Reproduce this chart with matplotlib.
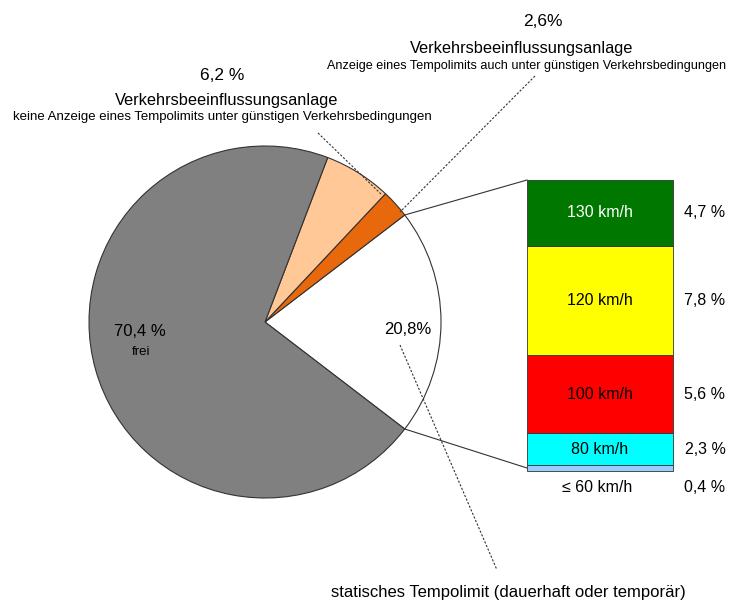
import numpy as np
import matplotlib
matplotlib.use('Agg')
import matplotlib.pyplot as plt

plt.rcParams['font.family'] = ['Liberation Sans', 'DejaVu Sans']

# pie: anteile der strecken
pie_vals = [20.8, 2.6, 6.2, 70.4]
pie_cols = ['#ffffff', '#e8690c', '#ffc896', '#808080']

# balken: statisches tempolimit, von unten nach oben
bar_labels = ['\u2264 60 km/h', '80 km/h', '100 km/h', '120 km/h', '130 km/h']
bar_vals = [0.4, 2.3, 5.6, 7.8, 4.7]
bar_pct = ['0,4 %', '2,3 %', '5,6 %', '7,8 %', '4,7 %']
bar_cols = ['#99ccff', '#00ffff', '#ff0000', '#ffff00', '#007800']
bar_txtcol = ['k', 'k', 'k', 'k', 'w']

W, H = 739, 600
fig = plt.figure(figsize=(W / 100, H / 100), dpi=100)
ax = fig.add_axes([0, 0, 1, 1])

def Y(py):
    return H - py

cx, cy, r = 265, Y(322), 176
half = pie_vals[0] * 3.6 / 2
ax.pie(pie_vals, colors=pie_cols, center=(cx, cy), radius=r, startangle=-half,
       counterclock=True, frame=True,
       wedgeprops=dict(edgecolor='#333333', linewidth=0.8))
ax.set_xlim(0, W)
ax.set_ylim(0, H)
ax.set_aspect('equal')
ax.axis('off')

# stacked bar
bx, bw = 600, 146
top_px, bot_px = 180, 471
scale = (bot_px - top_px) / sum(bar_vals)
bottom = Y(bot_px)
mids = []
for lab, v, c in zip(bar_labels, bar_vals, bar_cols):
    h = v * scale
    ax.bar(bx, h, width=bw, bottom=bottom, color=c, edgecolor='#333333', linewidth=0.6)
    mids.append(bottom + h / 2)
    bottom += h

for i, (lab, m) in enumerate(zip(bar_labels, mids)):
    if i == 0:
        ax.text(bx - 3, Y(487), lab, ha='center', va='center', fontsize=11.5)
        ax.text(705, Y(488), bar_pct[i], ha='center', va='center', fontsize=11.5)
    else:
        ax.text(bx, m, lab, ha='center', va='center', fontsize=11.5, color=bar_txtcol[i])
        ax.text(705, m, bar_pct[i], ha='center', va='center', fontsize=11.5)

# verbindungslinien pie -> balken
a = np.deg2rad(half)
ax.plot([cx + r * np.cos(a), bx - bw / 2], [cy + r * np.sin(a), Y(top_px)],
        color='#333333', lw=0.8)
ax.plot([cx + r * np.cos(a), bx - bw / 2], [cy - r * np.sin(a), Y(bot_px - 3)],
        color='#333333', lw=0.8)

# beschriftungen
ax.text(140, Y(331), '70,4 %', ha='center', va='center', fontsize=12)
ax.text(141, Y(352), 'frei', ha='center', va='center', fontsize=9.5)
ax.text(408, Y(329), '20,8%', ha='center', va='center', fontsize=12)

ax.text(222, Y(75), '6,2 %', ha='center', va='center', fontsize=12.5)
ax.text(227, Y(101), 'Verkehrsbeeinflussungsanlage', ha='center', va='center', fontsize=11.8)
ax.text(222, Y(117), 'keine Anzeige eines Tempolimits unter g\u00fcnstigen Verkehrsbedingungen',
        ha='center', va='center', fontsize=9.5)

ax.text(543, Y(22), '2,6%', ha='center', va='center', fontsize=12.5)
ax.text(522, Y(49), 'Verkehrsbeeinflussungsanlage', ha='center', va='center', fontsize=11.8)
ax.text(527, Y(66), 'Anzeige eines Tempolimits auch unter g\u00fcnstigen Verkehrsbedingungen',
        ha='center', va='center', fontsize=9.1)

ax.text(508, Y(592), 'statisches Tempolimit (dauerhaft oder tempor\u00e4r)',
        ha='center', va='center', fontsize=12)

# gestrichelte hinweislinien
ax.plot([318, 382], [Y(133), Y(195)], color='#333333', lw=0.8, ls=(0, (2, 1.5)))
ax.plot([535, 400], [Y(76), Y(212)], color='#333333', lw=0.8, ls=(0, (2, 1.5)))
ax.plot([400, 497], [Y(345), Y(570)], color='#333333', lw=0.8, ls=(0, (2, 1.5)))

fig.savefig('out.png', dpi=100)
